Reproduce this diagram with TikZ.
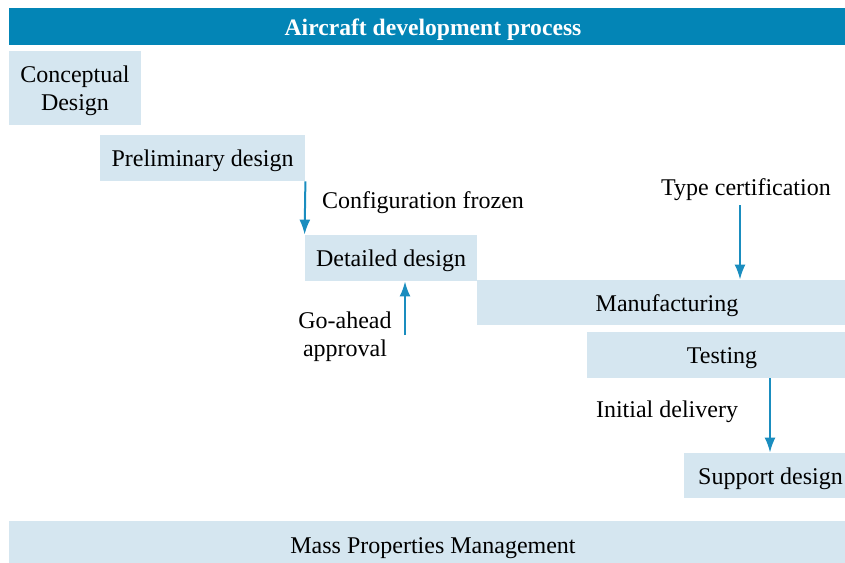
\documentclass[tikz,border=0pt]{standalone}
\usepackage{fontspec}
\setmainfont{Liberation Serif}
\usetikzlibrary{arrows.meta}
\definecolor{barblue}{HTML}{0385B6}
\definecolor{boxblue}{HTML}{D5E6F0}
\definecolor{arrowblue}{HTML}{1A8DBF}
\tikzset{
  stage/.style={fill=boxblue,inner sep=0pt,align=center,text height=11.2pt,text depth=2.6pt,font=\fontsize{12}{14}\selectfont},
  label/.style={inner sep=0pt,align=center,font=\fontsize{12}{14}\selectfont},
  flow/.style={arrowblue,line width=1pt,-{Latex[length=7.5pt,width=5.5pt]}}
}
\begin{document}
\begin{tikzpicture}[x=0.5pt,y=-0.5pt]
				\useasboundingbox (0,0) rectangle (845,562);
				\clip (0,0) rectangle (845,562);
				% header and footer bars
				\node[fill=barblue,text=white,inner sep=0pt,minimum width=424pt,minimum height=18.5pt,text height=11.2pt,text depth=2.6pt,font=\bfseries\fontsize{11.8}{14}\selectfont] (title) at (433,26.5) {Aircraft development process};
				\node[stage,minimum width=424pt,minimum height=24pt] (mass) at (433,545) {Mass Properties Management};
				
				% stages
				\node[fill=boxblue,inner sep=0pt,align=center,font=\fontsize{12}{14}\selectfont,minimum width=66pt,minimum height=37pt] (concept) at (75,88) {\rule{0pt}{11.2pt}Conceptual\\Design};
				\node[stage,minimum width=102.5pt,minimum height=23pt] (prelim) at (202.5,158) {Preliminary design};
				\node[stage,minimum width=86pt,minimum height=23pt] (detail) at (391,258) {Detailed design};
				\node[stage,minimum width=190pt,minimum height=22.5pt] (manuf) at (667,302.5) {Manufacturing};
				\node[stage,minimum width=135pt,minimum height=23pt] (testing) at (722,355) {Testing};
				\node[stage,minimum width=86.5pt,minimum height=22.5pt] (support) at (770.5,475.5) {Support design};
				
				% milestones
				\node[label] (frozen) at (423,203) {Configuration frozen};
				\node[label] (goahead) at (345,337) {Go-ahead\\approval};
				\node[label] (typecert) at (746,190) {Type certification};
				\node[label] (delivery) at (667,412) {Initial delivery};
				
				\coordinate (ga) at (405,335);
				\coordinate (tc) at (740,205);
				\coordinate (id) at (770,378);
				\draw[flow] (prelim.south east) -- (detail.north west);
				\draw[flow] (ga) -- (ga |- detail.south);
				\draw[flow] (tc) -- (tc |- manuf.north);
				\draw[flow] (id |- testing.south) -- (id |- support.north);
			\end{tikzpicture}
\end{document}
